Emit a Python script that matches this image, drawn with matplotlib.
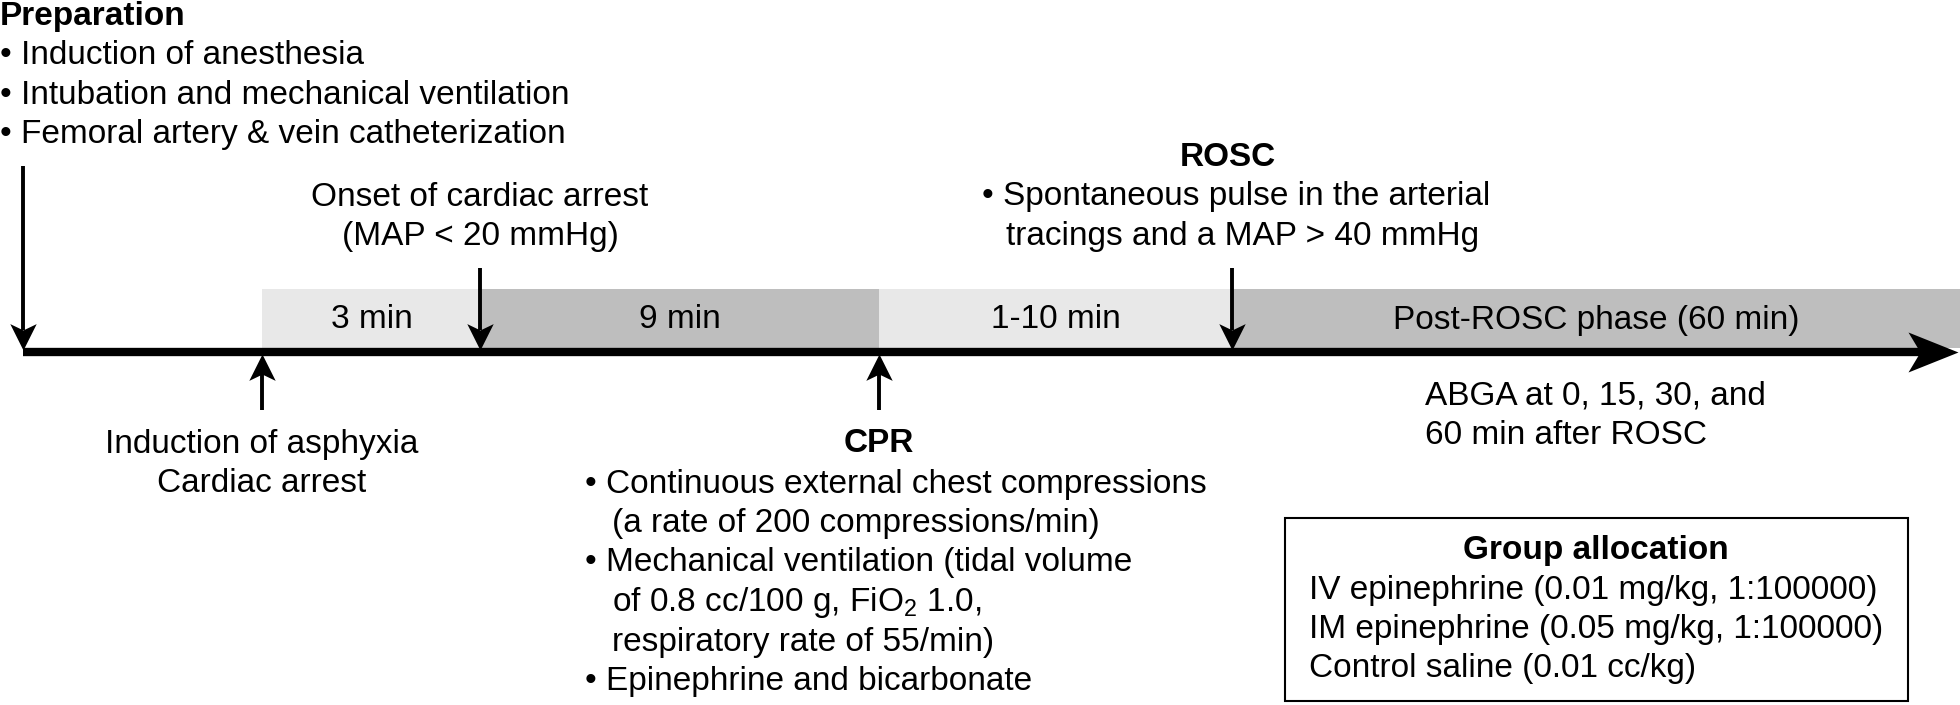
import matplotlib
matplotlib.use('Agg')
import matplotlib.pyplot as plt
from matplotlib.patches import Rectangle
from matplotlib.path import Path
from matplotlib import font_manager as fm

# ---------------- data ----------------
prep_title = "Preparation"
prep_items = ["• Induction of anesthesia",
              "• Intubation and mechanical ventilation",
              "• Femoral artery & vein catheterization"]
onset_lines = ["Onset of cardiac arrest", "(MAP < 20 mmHg)"]
rosc_title = "ROSC"
rosc_lines = ["• Spontaneous pulse in the arterial", "tracings and a MAP > 40 mmHg"]
asphyxia_lines = ["Induction of asphyxia", "Cardiac arrest"]
cpr_title = "CPR"
cpr_lines = ["• Continuous external chest compressions",
             "(a rate of 200 compressions/min)",
             "• Mechanical ventilation (tidal volume",
             r"of 0.8 cc/100 g, FiO$_{\mathrm{2}}$ 1.0,",
             "respiratory rate of 55/min)",
             "• Epinephrine and bicarbonate"]
cpr_indent = [False, True, False, True, True, False]
abga_lines = ["ABGA at 0, 15, 30, and", "60 min after ROSC"]
group_title = "Group allocation"
group_lines = ["IV epinephrine (0.01 mg/kg, 1:100000)",
               "IM epinephrine (0.05 mg/kg, 1:100000)",
               "Control saline (0.01 cc/kg)"]

phase_labels = ["3 min", "9 min", "1-10 min", "Post-ROSC phase (60 min)"]
phase_bounds = [262, 481, 879, 1232, 1960]   # timeline positions of phase boundaries
phase_shade = ["light", "dark", "light", "dark"]

# ---------------- style ----------------
avail = {f.name for f in fm.fontManager.ttflist}
FONT = 'Liberation Sans Narrow' if 'Liberation Sans Narrow' in avail else 'Liberation Sans'
plt.rcParams['font.family'] = [FONT, 'DejaVu Sans']
plt.rcParams['mathtext.fontset'] = 'custom'
plt.rcParams['mathtext.rm'] = FONT
plt.rcParams['mathtext.bf'] = FONT + ':bold'
FS = 28 if 'Narrow' in FONT else 24
shade_col = {"light": "#e8e8e8", "dark": "#bebebe"}

fig = plt.figure(figsize=(19.6, 7.05), dpi=100)
ax = fig.add_axes([0, 0, 1, 1])
ax.set_xlim(0, 1960)
ax.set_ylim(705, 0)
ax.axis('off')

TL_Y = 352
BAND_TOP = 289

# notched ("stealth") arrow heads as marker paths; origin = tip
def head_path(direction, hw=0.5, notch=0.76):
    pts = [(0, 0), (-hw, 1.0), (0, notch), (hw, 1.0), (0, 0)]
    if direction == 'up':
        pts = [(x, -y) for x, y in pts]
    elif direction == 'right':
        pts = [(-y, x) for x, y in pts]
    return Path(pts, [Path.MOVETO, Path.LINETO, Path.LINETO, Path.LINETO, Path.CLOSEPOLY])

HEAD_MS = 38   # points, head length = HEAD_MS/2

def arrow(x, y0, y1):
    """vertical arrow from y0 to tip y1 (pixel coords, y downward)"""
    d = 'down' if y1 > y0 else 'up'
    back = y1 - 20 if d == 'down' else y1 + 20
    ax.plot([x, x], [y0, back], color='black', lw=2.8, solid_capstyle='butt', zorder=4)
    ax.plot([x], [y1], marker=head_path(d), ms=HEAD_MS, mfc='black', mew=0,
            linestyle='none', zorder=5)

# phase bands
for lab, x0, x1, sh in zip(phase_labels, phase_bounds[:-1], phase_bounds[1:], phase_shade):
    ax.add_patch(Rectangle((x0, BAND_TOP), x1 - x0, TL_Y - 4 - BAND_TOP,
                           facecolor=shade_col[sh], edgecolor='none', zorder=1))
    ax.text((x0 + x1) / 2, 320, lab, ha='center', va='center', fontsize=FS, zorder=2)

# main timeline
ax.plot([23, 1925], [TL_Y, TL_Y], color='black', lw=6, solid_capstyle='butt', zorder=3)
ax.plot([1958], [TL_Y], marker=head_path('right', hw=0.4, notch=0.76), ms=72, mfc='black',
        mew=0, linestyle='none', zorder=3)

# preparation
ax.text(0, 17, prep_title, ha='left', va='center', fontsize=FS, fontweight='bold')
for i, s in enumerate(prep_items):
    ax.text(0, 56 + 39 * i, s, ha='left', va='center', fontsize=FS)
arrow(23, 166, TL_Y - 2)

# onset
for i, s in enumerate(onset_lines):
    ax.text(phase_bounds[1] - 1, 197 + 39 * i, s, ha='center', va='center', fontsize=FS)
arrow(phase_bounds[1] - 1, 268, TL_Y - 2)

# ROSC
ax.text(phase_bounds[3] - 4, 157, rosc_title, ha='center', va='center', fontsize=FS, fontweight='bold')
ax.text(982, 197, rosc_lines[0], ha='left', va='center', fontsize=FS)
ax.text(1006, 236, rosc_lines[1], ha='left', va='center', fontsize=FS)
arrow(phase_bounds[3], 268, TL_Y - 2)

# asphyxia
arrow(phase_bounds[0], 410, TL_Y + 2)
for i, s in enumerate(asphyxia_lines):
    ax.text(phase_bounds[0], 445 + 38 * i, s, ha='center', va='center', fontsize=FS)

# CPR
arrow(phase_bounds[2], 410, TL_Y + 2)
ax.text(phase_bounds[2], 444, cpr_title, ha='center', va='center', fontsize=FS, fontweight='bold')
for i, (s, ind) in enumerate(zip(cpr_lines, cpr_indent)):
    ax.text(585 + (27 if ind else 0), 484 + 39.5 * i, s, ha='left', va='center', fontsize=FS)

# ABGA
for i, s in enumerate(abga_lines):
    ax.text(1425, 396 + 39 * i, s, ha='left', va='center', fontsize=FS)

# group allocation box
ax.add_patch(Rectangle((1285, 518), 623, 183, facecolor='none', edgecolor='black', lw=1.5))
ax.text(1596, 550, group_title, ha='center', va='center', fontsize=FS, fontweight='bold')
for i, s in enumerate(group_lines):
    ax.text(1309, 590 + 39.3 * i, s, ha='left', va='center', fontsize=FS)

fig.savefig('out.png', dpi=100)
